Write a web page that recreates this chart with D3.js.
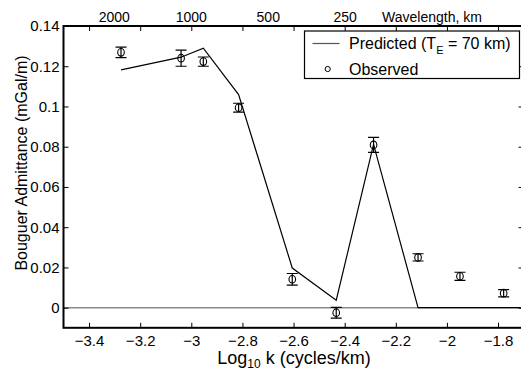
<!DOCTYPE html>
<html>
<head>
<meta charset="utf-8">
<script src="https://cdn.jsdelivr.net/npm/d3@7"></script>
<style>
  body { margin: 0; background: #fff; }
  svg { font-family: "Liberation Sans", Arial, Helvetica, sans-serif; }
</style>
</head>
<body>
<div id="chart"></div>
<script>
// observed admittance, log10 k (cycles/km)
const obsK = [-3.275, -3.040, -2.953, -2.815, -2.605, -2.433, -2.287, -2.113, -1.949, -1.778];
const obsVal = [0.1269, 0.1240, 0.1223, 0.0994, 0.0141, -0.0025, 0.0809, 0.0250, 0.0156, 0.0072];
const obsErr = [0.0026, 0.0040, 0.0023, 0.0022, 0.0029, 0.0027, 0.0037, 0.0018, 0.0020, 0.0018];

// predicted for Te = 70 km
const predK = [-3.275, -3.040, -2.953, -2.815, -2.605, -2.433, -2.287, -2.113, -1.949, -1.778, -1.7];
const predVal = [0.1182, 0.1245, 0.1290, 0.1059, 0.0197, 0.0037, 0.0812, 0.0, 0.0, 0.0, 0.0];

const xTicks = [-3.4, -3.2, -3, -2.8, -2.6, -2.4, -2.2, -2, -1.8];
const yTicks = [0, 0.02, 0.04, 0.06, 0.08, 0.1, 0.12, 0.14];
const wavelengths = [2000, 1000, 500, 250];

const W = 521, H = 371;
const mLeft = 63.5, mRight = 523.6, mTop = 26, mBottom = 327.8;

const svg = d3.select("#chart").append("svg")
    .attr("width", W)
    .attr("height", H);

const x = d3.scaleLinear().domain([-3.5, -1.7]).range([mLeft, mRight]);
const y = d3.scaleLinear().domain([-0.01, 0.14]).range([mBottom, mTop]);

const fmtX = d => (d < 0 ? "\u2212" : "") + Math.abs(d);
const fmtY = d => d === 0 ? "0" : String(+d.toFixed(2));

//clip for the data
svg.append("clipPath").attr("id", "plot")
  .append("rect")
    .attr("x", mLeft).attr("y", mTop)
    .attr("width", mRight - mLeft).attr("height", mBottom - mTop);

//zero line
svg.append("line")
    .attr("x1", mLeft).attr("x2", mRight)
    .attr("y1", y(0)).attr("y2", y(0))
    .attr("stroke", "#888")
    .attr("stroke-width", 1.5);

//axes, ticks inward
const bottomAxis = d3.axisBottom(x).tickValues(xTicks).tickSize(-5).tickPadding(7.5).tickFormat(fmtX);
const topAxis = d3.axisTop(x).tickValues(xTicks).tickSize(-5).tickFormat("");
const leftAxis = d3.axisLeft(y).tickValues(yTicks).tickSize(-5).tickPadding(4).tickFormat(fmtY);
const rightAxis = d3.axisRight(y).tickValues(yTicks).tickSize(-5).tickFormat("");

function styleAxis(g) {
  g.select(".domain").remove();
  g.selectAll("line").attr("stroke", "#000");
  g.selectAll("text").attr("fill", "#000").style("font-size", "15px");
}

svg.append("g").attr("transform", `translate(0,${mBottom})`).call(bottomAxis).call(styleAxis);
svg.append("g").attr("transform", `translate(0,${mTop})`).call(topAxis).call(styleAxis);
svg.append("g").attr("transform", `translate(${mLeft},0)`).call(leftAxis).call(styleAxis);
svg.append("g").attr("transform", `translate(${mRight},0)`).call(rightAxis).call(styleAxis);

svg.append("rect")
    .attr("x", mLeft).attr("y", mTop)
    .attr("width", mRight - mLeft).attr("height", mBottom - mTop)
    .attr("fill", "none")
    .attr("stroke", "#000")
    .attr("stroke-width", 2);

//wavelength labels on the top
svg.append("g").selectAll("text")
  .data(wavelengths)
  .enter()
  .append("text")
    .attr("x", d => x(Math.log10(1 / d)))
    .attr("y", 21.5)
    .attr("text-anchor", "middle")
    .style("font-size", "14px")
    .text(d => d);

svg.append("text")
    .attr("x", 432).attr("y", 21.5)
    .attr("text-anchor", "middle")
    .style("font-size", "14px")
    .text("Wavelength, km");

const plot = svg.append("g").attr("clip-path", "url(#plot)");

//predicted line
const lineMap = d3.line()
    .x((d, i) => x(predK[i]))
    .y(d => y(d));

plot.append("path")
    .datum(predVal)
    .attr("d", lineMap)
    .attr("fill", "none")
    .attr("stroke", "#000")
    .attr("stroke-width", 1.2);

//observed with error bars
const obs = plot.selectAll(".obs")
  .data(obsVal)
  .enter()
  .append("g")
    .attr("class", "obs");

obs.append("line")
    .attr("x1", (d, i) => x(obsK[i])).attr("x2", (d, i) => x(obsK[i]))
    .attr("y1", (d, i) => y(d - obsErr[i])).attr("y2", (d, i) => y(d + obsErr[i]))
    .attr("stroke", "#000").attr("stroke-width", 1.2);

[-1, 1].forEach(s => {
  obs.append("line")
      .attr("x1", (d, i) => x(obsK[i]) - 5.5).attr("x2", (d, i) => x(obsK[i]) + 5.5)
      .attr("y1", (d, i) => y(d + s * obsErr[i])).attr("y2", (d, i) => y(d + s * obsErr[i]))
      .attr("stroke", "#000").attr("stroke-width", 1.2);
});

obs.append("ellipse")
    .attr("cx", (d, i) => x(obsK[i]))
    .attr("cy", d => y(d))
    .attr("rx", 3.3).attr("ry", 3.8)
    .attr("fill", "none")
    .attr("stroke", "#000")
    .attr("stroke-width", 1.1);

//legend
const legend = svg.append("g");
legend.append("rect")
    .attr("x", 304.5).attr("y", 31)
    .attr("width", 215).attr("height", 47.5)
    .attr("fill", "#fff")
    .attr("stroke", "#000")
    .attr("stroke-width", 1.2);

legend.append("line")
    .attr("x1", 312.5).attr("x2", 339.5)
    .attr("y1", 43.5).attr("y2", 43.5)
    .attr("stroke", "#555").attr("stroke-width", 1.2);

let predText = legend.append("text")
    .attr("x", 349).attr("y", 49)
    .style("font-size", "16px");
predText.append("tspan").text("Predicted (T");
predText.append("tspan").attr("dy", 5).style("font-size", "11px").text("E");
predText.append("tspan").attr("dy", -5).text(" = 70 km)");

legend.append("circle")
    .attr("cx", 327.7).attr("cy", 69)
    .attr("r", 2.6)
    .attr("fill", "none")
    .attr("stroke", "#000");

legend.append("text")
    .attr("x", 349).attr("y", 74.5)
    .style("font-size", "16px")
    .text("Observed");

//axis titles
let xTitle = svg.append("text")
    .attr("x", 294).attr("y", 364)
    .attr("text-anchor", "middle")
    .style("font-size", "18px");
xTitle.append("tspan").text("Log");
xTitle.append("tspan").attr("dy", 4).style("font-size", "12px").text("10");
xTitle.append("tspan").attr("dy", -4).text(" k (cycles/km)");

svg.append("text")
    .attr("transform", "translate(26.5,163) rotate(-90)")
    .attr("text-anchor", "middle")
    .style("font-size", "16px")
    .text("Bouguer Admittance (mGal/m)");
</script>
</body>
</html>
